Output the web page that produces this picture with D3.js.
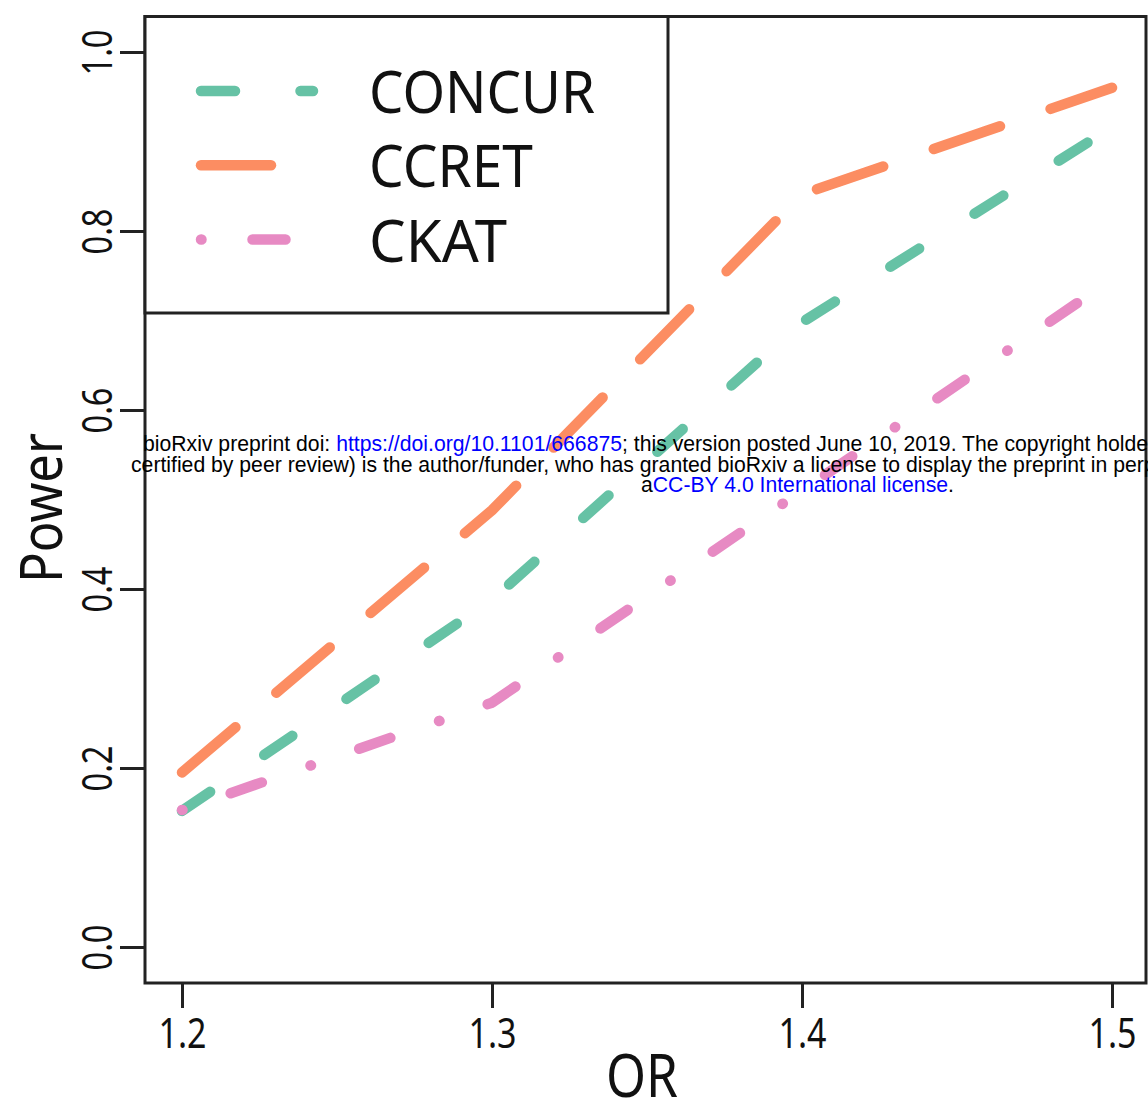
<!DOCTYPE html>
<html>
<head>
<meta charset="utf-8">
<script src="https://cdn.jsdelivr.net/npm/d3@7"></script>
<style>
  html, body { margin: 0; padding: 0; background: #fff; overflow: hidden; }
  svg { display: block; }
</style>
</head>
<body>
<svg id="chart" width="1148" height="1104"></svg>
<script>
// ---- data ----
const orValues   = [1.2, 1.3, 1.4, 1.5];
const concurPow  = [0.152, 0.388, 0.698, 0.916];
const ccretPow   = [0.195, 0.488, 0.841, 0.960];
const ckatPow    = [0.153, 0.273, 0.510, 0.746];
const seriesNames = ["CONCUR", "CCRET", "CKAT"];
const xTickVals  = [1.2, 1.3, 1.4, 1.5];
const yTickVals  = [0.0, 0.2, 0.4, 0.6, 0.8, 1.0];

// ---- styling ----
const colors = { CONCUR: "#66c2a5", CCRET: "#fc8d62", CKAT: "#e78ac3" };
const dashes = { CONCUR: "34 65.5", CCRET: "70 53.5", CKAT: "0.5 51 33 51.5" };
const seriesVals = { CONCUR: concurPow, CCRET: ccretPow, CKAT: ckatPow };
const FONT = "'Noto Sans', 'Open Sans', sans-serif";

const svg = d3.select("#chart");
svg.append("rect").attr("width", 1148).attr("height", 1104).attr("fill", "#fff");

const x = d3.scaleLinear().domain([1.2, 1.5]).range([182, 1112]);
const y = d3.scaleLinear().domain([0, 1]).range([947, 52]);

const frame = { left: 145, right: 1146, top: 16.5, bottom: 983 };

function fit(sel, w) {
  sel.attr("textLength", w).attr("lengthAdjust", "spacingAndGlyphs");
}

// ---- series lines ----
const line = d3.line().x((d, i) => x(orValues[i])).y(d => y(d));
seriesNames.forEach(name => {
  svg.append("path")
    .datum(seriesVals[name])
    .attr("d", line)
    .attr("fill", "none")
    .attr("stroke", colors[name])
    .attr("stroke-width", 10.5)
    .attr("stroke-linecap", "round")
    .attr("stroke-linejoin", "round")
    .attr("stroke-dasharray", dashes[name]);
});

// ---- frame ----
svg.append("rect")
  .attr("x", frame.left).attr("y", frame.top)
  .attr("width", frame.right - frame.left)
  .attr("height", frame.bottom - frame.top)
  .attr("fill", "none").attr("stroke", "#222").attr("stroke-width", 3);

// ---- x axis ----
const xAxis = svg.append("g")
  .attr("transform", `translate(0,${frame.bottom})`)
  .call(d3.axisBottom(x).tickValues(xTickVals).tickFormat(d3.format(".1f")).tickSize(25).tickSizeOuter(0));
xAxis.select(".domain").remove();
xAxis.selectAll(".tick line").attr("stroke", "#222").attr("stroke-width", 3);
xAxis.selectAll(".tick text")
  .attr("y", 65).attr("dy", 0)
  .attr("fill", "#111")
  .style("font-family", FONT).style("font-size", "42px")
  .call(fit, 48);

// ---- y axis ----
const yAxis = svg.append("g")
  .attr("transform", `translate(${frame.left},0)`)
  .call(d3.axisLeft(y).tickValues(yTickVals).tickFormat(d3.format(".1f")).tickSize(25).tickSizeOuter(0));
yAxis.select(".domain").remove();
yAxis.selectAll(".tick line").attr("stroke", "#222").attr("stroke-width", 3);
yAxis.selectAll(".tick text")
  .attr("x", null).attr("dy", null)
  .attr("transform", "translate(-33,0) rotate(-90)")
  .attr("text-anchor", "middle")
  .attr("fill", "#111")
  .style("font-family", FONT).style("font-size", "42px")
  .call(fit, 46);

// ---- axis titles ----
svg.append("text")
  .attr("transform", "translate(62,508) rotate(-90)")
  .attr("text-anchor", "middle")
  .attr("fill", "#111")
  .style("font-family", FONT).style("font-size", "58px")
  .text("Power").call(fit, 150);

svg.append("text")
  .attr("x", 642).attr("y", 1097)
  .attr("text-anchor", "middle")
  .attr("fill", "#111")
  .style("font-family", FONT).style("font-size", "61px")
  .text("OR").call(fit, 72);

// ---- legend ----
const legend = svg.append("g");
legend.append("rect")
  .attr("x", frame.left).attr("y", frame.top)
  .attr("width", 668 - frame.left).attr("height", 313 - frame.top)
  .attr("fill", "#fff").attr("stroke", "#222").attr("stroke-width", 3);
const legY = d3.scalePoint().domain(seriesNames).range([91, 239.5]);
const legW = { CONCUR: 226, CCRET: 164, CKAT: 138 };
seriesNames.forEach(name => {
  legend.append("path")
    .attr("d", d3.line()([[201, legY(name)], [313, legY(name)]]))
    .attr("fill", "none")
    .attr("stroke", colors[name])
    .attr("stroke-width", 10.5)
    .attr("stroke-linecap", "round")
    .attr("stroke-dasharray", dashes[name]);
  legend.append("text")
    .attr("x", 369).attr("y", legY(name) + 22)
    .attr("fill", "#111")
    .style("font-family", FONT).style("font-size", "58px")
    .text(name).call(fit, legW[name]);
});

// ---- bioRxiv watermark (part of the picture) ----
const wm = svg.append("g")
  .style("font-family", "'Liberation Sans', Arial, sans-serif")
  .style("font-size", "21.2px");
const l1 = wm.append("text").attr("x", 143).attr("y", 451).attr("fill", "#000");
l1.append("tspan").text("bioRxiv preprint doi: ");
l1.append("tspan").attr("fill", "#0000ff").text("https://doi.org/10.1101/666875");
l1.append("tspan").text("; this version posted June 10, 2019. The copyright holder for this preprint (which was not");
wm.append("text").attr("x", 131).attr("y", 471.5).attr("fill", "#000")
  .text("certified by peer review) is the author/funder, who has granted bioRxiv a license to display the preprint in perpetuity. It is made available under");
const l3 = wm.append("text").attr("x", 641).attr("y", 492).attr("fill", "#000");
l3.append("tspan").text("a");
l3.append("tspan").attr("fill", "#0000ff").text("CC-BY 4.0 International license");
l3.append("tspan").text(".");
</script>
</body>
</html>
